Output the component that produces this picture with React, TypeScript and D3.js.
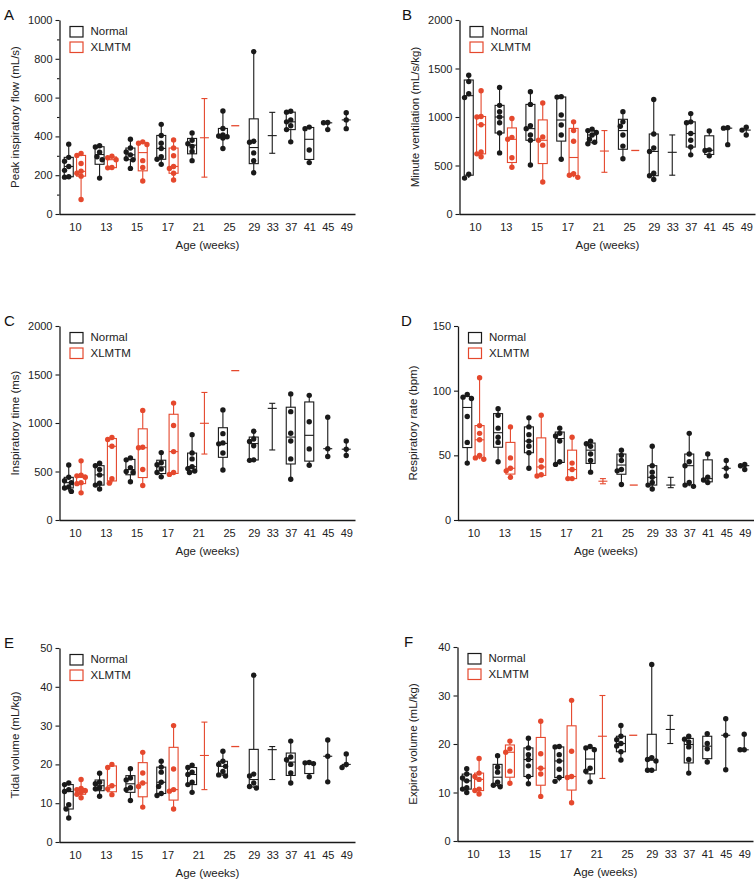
import React, { useEffect, useRef } from 'react';
import * as d3 from 'd3';

// summary-only groups (no dots drawn): min / median / max
type Range = { lo: number; mid: number; hi: number };
type Group = number[] | Range | null;

const AGES = [10, 13, 15, 17, 21, 25, 29, 33, 37, 41, 45, 49];
const X_TITLE = 'Age (weeks)';
const SERIES = ['Normal', 'XLMTM'];

// A - peak inspiratory flow
const peakFlowNormal: Group[] = [
  [360, 292, 272, 245, 225, 192, 190],
  [352, 345, 318, 295, 280, 185],
  [385, 340, 320, 305, 285, 280, 235],
  [462, 405, 365, 338, 295, 282, 256],
  [418, 380, 362, 348, 322, 275],
  [531, 441, 407, 402, 398, 392, 338],
  [837, 375, 370, 315, 275, 213],
  { lo: 313, mid: 404, hi: 524 },
  [530, 525, 485, 475, 455, 435, 372],
  [448, 440, 330, 265],
  [472, 470, 435],
  [522, 485, 440],
];
const peakFlowXlmtm: Group[] = [
  [312, 302, 260, 220, 210, 195, 75],
  [298, 290, 280, 240, 238],
  [372, 365, 358, 275, 240, 170],
  [382, 340, 300, 245, 235, 210, 175],
  { lo: 190, mid: 393, hi: 595 },
  { lo: 455, mid: 455, hi: 455 },
];
const peakFlowTicks = [0, 200, 400, 600, 800, 1000];

// B - minute ventilation
const minuteVentNormal: Group[] = [
  [1430, 1365, 1240, 1200, 410, 370],
  [1305, 1120, 1055, 1000, 940, 835, 630],
  [1260, 1130, 910, 880, 815, 760, 505],
  [1210, 1205, 1020, 918, 814, 564],
  [875, 860, 840, 815, 770, 740, 725],
  [1055, 950, 905, 815, 700, 570],
  [1180, 825, 680, 645, 420, 395, 355],
  { lo: 400, mid: 636, hi: 815 },
  [1035, 950, 940, 830, 760, 690, 610],
  [855, 660, 655, 600],
  [890, 885, 715],
  [895, 865, 815],
];
const minuteVentXlmtm: Group[] = [
  [1270, 1005, 1000, 920, 640, 620, 590],
  [985, 790, 770, 580, 482],
  [1145, 795, 760, 710, 330],
  [950, 860, 750, 415, 400, 378],
  { lo: 430, mid: 649, hi: 860 },
  { lo: 655, mid: 655, hi: 655 },
];
const minuteVentTicks = [0, 500, 1000, 1500, 2000];

// C - inspiratory time
const inspTimeNormal: Group[] = [
  [567, 440, 405, 385, 340, 330, 295],
  [585, 560, 520, 465, 380, 360, 320],
  [640, 620, 540, 500, 490, 395],
  [695, 590, 570, 525, 490, 445],
  [880, 690, 630, 550, 530, 505, 490],
  [1135, 890, 795, 785, 690, 515],
  [915, 835, 810, 765, 620, 615],
  { lo: 722, mid: 1151, hi: 1203 },
  [1300, 1117, 895, 815, 630, 420],
  [1285, 1013, 733, 565],
  [1060, 735, 655],
  [815, 730, 665],
];
const inspTimeXlmtm: Group[] = [
  [610, 462, 455, 440, 385, 375, 280],
  [850, 830, 760, 425, 380],
  [1130, 750, 745, 520, 355],
  [1205, 975, 705, 490, 470],
  { lo: 680, mid: 997, hi: 1315 },
  { lo: 1540, mid: 1540, hi: 1540 },
];
const inspTimeTicks = [0, 500, 1000, 1500, 2000];

// D - respiratory rate
const respRateNormal: Group[] = [
  [97, 95, 94, 80, 60, 44],
  [86, 81, 71, 64, 60, 45],
  [79, 72, 66, 61, 57, 52, 40],
  [71, 67, 65, 61, 45, 43],
  [61, 59, 57, 51, 46, 37],
  [54, 50, 46, 39, 38, 27.5],
  [57, 42, 37, 33, 29, 27, 24],
  { lo: 25, mid: 27, hi: 33 },
  [67, 51, 45, 42, 29, 27, 26],
  [51, 33, 31, 29],
  [46, 40, 34],
  [43, 42, 39],
];
const respRateXlmtm: Group[] = [
  [110, 73, 67, 62, 50, 48, 47],
  [72, 48, 40, 38, 33],
  [81, 46, 41, 35, 34],
  [64, 44, 39, 32, 32],
  { lo: 28, mid: 30, hi: 32 },
  { lo: 27, mid: 27, hi: 27 },
];
const respRateTicks = [0, 50, 100, 150];

// E - tidal volume
const tidalNormal: Group[] = [
  [15.2, 14.8, 13.5, 13, 9.6, 8.5, 6.2],
  [17.7, 15.4, 15, 14, 13.7, 11.8],
  [18.9, 16.5, 16, 14, 13.5, 10.7],
  [20.8, 19.3, 18, 15.4, 14.3, 12.5, 12],
  [19.8, 19.2, 18, 17.4, 15.4, 14.8, 12.8],
  [23.4, 20.8, 20, 19.5, 18.2, 17.3, 17],
  [43, 17.5, 17, 15.2, 14.3, 13.9],
  { lo: 16.1, mid: 23.8, hi: 24.6 },
  [26, 21.9, 21.2, 20, 17.8, 15.2],
  [20.5, 20.4, 20.2, 16.8],
  [26.3, 22.1, 15.5],
  [22.7, 20, 19.2],
];
const tidalXlmtm: Group[] = [
  [16.1, 13.8, 13.5, 13.2, 12.8, 12.3, 11.4],
  [20, 19.2, 14.5, 13.7, 12.2],
  [23.1, 17.8, 15.2, 14.3, 9],
  [30, 18.8, 13.5, 13.1, 8.5],
  { lo: 13.5, mid: 22.3, hi: 30.9 },
  { lo: 24.6, mid: 24.6, hi: 24.6 },
];
const tidalTicks = [0, 10, 20, 30, 40, 50];

// F - expired volume
const expiredNormal: Group[] = [
  [14.9, 13.8, 13, 12.4, 11, 10.7, 10],
  [17.6, 15.2, 14.2, 12.1, 11.5, 11.2],
  [21.2, 19.2, 17.8, 16.8, 15.5, 13.3, 11.8],
  [19.5, 19.4, 17.8, 16.5, 14.8, 13.1, 12.3],
  [19.5, 19.2, 18.8, 15, 14.4, 12.2],
  [23.8, 21.6, 20.9, 20.1, 19.6, 18.4, 16.7],
  [36.4, 17.2, 16.8, 16.5, 14.6, 14.6],
  { lo: 20.1, mid: 23, hi: 25.9 },
  [21.6, 21, 20.4, 19.4, 16.8, 14],
  [22.1, 20.1, 19, 16.3],
  [25.2, 21.8, 14.7],
  [22, 18.8, 18.8],
];
const expiredXlmtm: Group[] = [
  [17, 14, 13.3, 12.7, 10.7, 10.4, 9.7],
  [20.6, 19, 18.3, 14.4, 11.9],
  [24.7, 18, 15, 13.8, 9.2],
  [29, 18.5, 13.3, 13.1, 7.9],
  { lo: 12.9, mid: 21.6, hi: 30 },
  { lo: 21.8, mid: 21.8, hi: 21.8 },
];
const expiredTicks = [0, 10, 20, 30, 40];

const PANELS = [
  { letter: 'A', yLabel: 'Peak inspiratory flow (mL/s)', normal: peakFlowNormal, xlmtm: peakFlowXlmtm, ticks: peakFlowTicks, minorStep: 100 },
  { letter: 'B', yLabel: 'Minute ventilation (mL/s/kg)', normal: minuteVentNormal, xlmtm: minuteVentXlmtm, ticks: minuteVentTicks, minorStep: 0 },
  { letter: 'C', yLabel: 'Inspiratory time (ms)', normal: inspTimeNormal, xlmtm: inspTimeXlmtm, ticks: inspTimeTicks, minorStep: 0 },
  { letter: 'D', yLabel: 'Respiratory rate (bpm)', normal: respRateNormal, xlmtm: respRateXlmtm, ticks: respRateTicks, minorStep: 0 },
  { letter: 'E', yLabel: 'Tidal volume (mL/kg)', normal: tidalNormal, xlmtm: tidalXlmtm, ticks: tidalTicks, minorStep: 0 },
  { letter: 'F', yLabel: 'Expired volume (mL/kg)', normal: expiredNormal, xlmtm: expiredXlmtm, ticks: expiredTicks, minorStep: 0 },
];

// layout of the six plot frames
const LAYOUT = [
  { left: 59.5, top: 20, letterX: 4 },
  { left: 459.5, top: 20, letterX: 402 },
  { left: 59.5, top: 326, letterX: 4 },
  { left: 458, top: 326, letterX: 401 },
  { left: 59.5, top: 648, letterX: 4 },
  { left: 457.5, top: 647, letterX: 404 },
];
const PLOT_W = 296;
const PLOT_H = 194;
const FONT = '"Liberation Sans", Arial, Helvetica, sans-serif';
const BLACK = '#1a1a1a';
const RED = '#e5482d';
const BOX_W = 9;
const DOT_R = 2.7;

const isRange = (g: Group): g is Range => !!g && !Array.isArray(g);

// Prism-style percentile: rank = (n + 1) * p
const quantile = (s: number[], p: number) => {
  const n = s.length;
  const h = Math.max(1, Math.min(n, (n + 1) * p));
  const i = Math.floor(h);
  if (i >= n) return s[n - 1];
  return s[i - 1] + (h - i) * (s[i] - s[i - 1]);
};

const drawGroup = (g, data: Group, cx: number, y, color: string) => {
  if (!data) return;
  const line = (x1, y1, x2, y2) =>
    g.append('line').attr('x1', x1).attr('y1', y1).attr('x2', x2).attr('y2', y2)
      .attr('stroke', color).attr('stroke-width', 1.1);

  if (isRange(data)) {
    if (data.lo === data.hi) {
      line(cx - 4, y(data.mid), cx + 4, y(data.mid)).attr('stroke-width', 1.3);
      return;
    }
    line(cx, y(data.lo), cx, y(data.hi));
    line(cx - 3, y(data.lo), cx + 3, y(data.lo));
    line(cx - 3, y(data.hi), cx + 3, y(data.hi));
    line(cx - 4.5, y(data.mid), cx + 4.5, y(data.mid));
    return;
  }

  const s = [...data].sort(d3.ascending);
  const n = s.length;
  const med = d3.median(s);
  line(cx, y(s[0]), cx, y(s[n - 1]));
  if (n >= 4) {
    const q1 = quantile(s, 0.25);
    const q3 = quantile(s, 0.75);
    g.append('rect')
      .attr('x', cx - BOX_W / 2).attr('width', BOX_W)
      .attr('y', y(q3)).attr('height', Math.max(0.5, y(q1) - y(q3)))
      .attr('fill', '#fff').attr('stroke', color).attr('stroke-width', 1.1);
  }

  // spread overlapping dots sideways (simple beeswarm)
  const placed: [number, number][] = [];
  const offsets = [0, -2.6, 2.6, -4.2, 4.2];
  [...s].reverse().forEach((v) => {
    const py = y(v);
    let best = 0;
    let bestD = -1;
    for (const dx of offsets) {
      const d = placed.length ? d3.min(placed, (q) => Math.hypot(q[0] - dx, q[1] - py)) : Infinity;
      if (d >= 4.8) { best = dx; break; }
      if (d > bestD) { bestD = d; best = dx; }
    }
    placed.push([best, py]);
  });

  line(cx - 4.5, y(med), cx + 4.5, y(med));

  g.selectAll(null)
    .data(placed)
    .join('circle')
    .attr('cx', (d) => cx + d[0])
    .attr('cy', (d) => d[1])
    .attr('r', DOT_R)
    .attr('fill', color);
};

const drawPanel = (svg, p, lay) => {
  const g = svg.append('g').attr('transform', `translate(${lay.left},${lay.top})`);
  const yMax = d3.max(p.ticks);
  const y = d3.scaleLinear().domain([0, yMax]).range([PLOT_H, 0]);

  // slot positions: step 1 inside an age group, 1.5 between groups
  const slots: { age: number; n: number; x: number | null; c: number }[] = [];
  let pos = -1.5;
  AGES.forEach((age, i) => {
    pos += 1.5;
    const nSlot = pos;
    let xSlot = null;
    if (p.xlmtm[i]) { pos += 1; xSlot = pos; }
    slots.push({ age, n: nSlot, x: xSlot, c: xSlot === null ? nSlot : (nSlot + xSlot) / 2 });
  });
  const x = d3.scaleLinear().domain([-0.75, pos + 0.75]).range([0, PLOT_W]);

  // y axis
  const yAxis = g.append('g')
    .call(d3.axisLeft(y).tickValues(p.ticks).tickFormat(d3.format('d'))
      .tickSize(4).tickSizeOuter(0).tickPadding(3));
  if (p.minorStep) {
    g.append('g')
      .call(d3.axisLeft(y).tickValues(d3.range(p.minorStep, yMax, p.minorStep * 2)).tickSize(2.5).tickFormat(() => ''))
      .call((a) => a.select('.domain').remove())
      .selectAll('line').attr('stroke', BLACK).attr('stroke-width', 1.1);
  }

  // x axis, labels at group centres
  const xAxis = g.append('g')
    .attr('transform', `translate(0,${PLOT_H})`)
    .call(d3.axisBottom(x).tickValues(slots.map((s) => s.c))
      .tickFormat((d, i) => String(slots[i].age)).tickSize(0).tickSizeOuter(0).tickPadding(9));
  xAxis.select('.domain').attr('d', `M0,0.5H${PLOT_W}`);

  [yAxis, xAxis].forEach((a) => {
    a.select('.domain').attr('stroke', BLACK).attr('stroke-width', 1.3);
    a.selectAll('.tick line').attr('stroke', BLACK).attr('stroke-width', 1.1);
    a.selectAll('text').attr('font-family', FONT).attr('font-size', 11).attr('fill', '#222');
  });

  // titles
  g.append('text')
    .attr('transform', `translate(-44,${PLOT_H / 2}) rotate(-90)`)
    .attr('text-anchor', 'middle').attr('dominant-baseline', 'middle')
    .attr('font-family', FONT).attr('font-size', 11.5).attr('fill', '#222')
    .text(p.yLabel);
  g.append('text')
    .attr('x', PLOT_W / 2).attr('y', PLOT_H + 35)
    .attr('text-anchor', 'middle')
    .attr('font-family', FONT).attr('font-size', 11.5).attr('fill', '#222')
    .text(X_TITLE);
  g.append('text')
    .attr('x', lay.letterX - lay.left).attr('y', 0)
    .attr('font-family', FONT).attr('font-size', 15).attr('fill', '#111')
    .text(p.letter);

  // legend
  const leg = g.append('g').attr('transform', 'translate(10,6)');
  SERIES.forEach((name, i) => {
    const row = leg.append('g').attr('transform', `translate(0,${i * 15.5})`);
    row.append('rect').attr('x', 0.5).attr('y', 0.5).attr('width', 13).attr('height', 10.5)
      .attr('fill', 'none').attr('stroke', i ? RED : BLACK).attr('stroke-width', 1.2);
    row.append('text').attr('x', 21).attr('y', 6)
      .attr('dominant-baseline', 'middle')
      .attr('font-family', FONT).attr('font-size', 11.5).attr('fill', '#222')
      .text(name);
  });

  // boxes
  slots.forEach((s, i) => {
    drawGroup(g, p.normal[i], x(s.n), y, BLACK);
    if (s.x !== null) drawGroup(g, p.xlmtm[i], x(s.x), y, RED);
  });
};

const App = () => {
  const svgRef = useRef(null);

  useEffect(() => {
    const svg = d3.select(svgRef.current);
    svg.selectAll('*').remove();
    PANELS.forEach((p, i) => drawPanel(svg, p, LAYOUT[i]));
  }, []);

  return (
    <svg
      ref={svgRef}
      width={756}
      height={882}
      style={{ position: 'absolute', left: 0, top: 0, background: '#fff' }}
    />
  );
};

export default App;
